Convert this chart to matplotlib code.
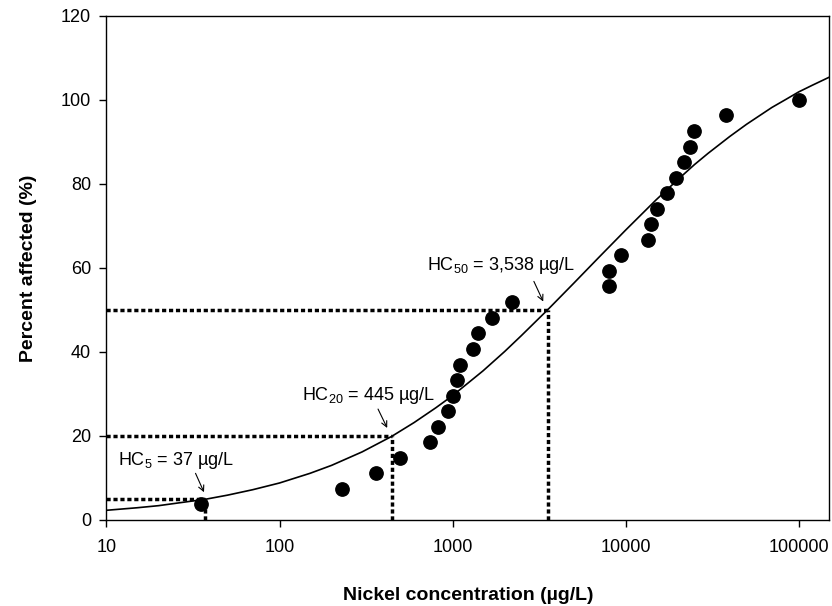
import matplotlib
matplotlib.use("Agg")
import matplotlib.pyplot as plt
import numpy as np

plt.rcParams['font.family'] = ['Liberation Sans', 'DejaVu Sans']
plt.rcParams['mathtext.default'] = 'regular'

# species sensitivity data (ug/L, percent affected)
conc = [35, 230, 360, 494, 740, 826, 944, 1012, 1054, 1102, 1305, 1396, 1680, 2192,
        8035, 8035, 9350, 13400, 14000, 15100, 17260, 19630, 21740, 23620, 24920,
        38000, 100000]
pct = [3.7, 7.4, 11.1, 14.8, 18.5, 22.2, 25.9, 29.6, 33.3, 37.0, 40.7, 44.4, 48.1,
       51.9, 55.6, 59.3, 63.0, 66.7, 70.4, 74.1, 77.8, 81.5, 85.2, 88.9, 92.6, 96.3,
       100.0]

# fitted curve
fit_x = [10, 15, 20, 30, 37, 50, 70, 100, 150, 200, 300, 445, 600, 800, 1000, 1500,
         2000, 2500, 3538, 5000, 7000, 10000, 15000, 20000, 25000, 30000, 40000,
         50000, 70000, 85000, 100000, 120000, 150000]
fit_y = [2.3, 2.9, 3.4, 4.4, 4.9, 5.9, 7.2, 8.8, 11.1, 13.0, 16.2, 19.9, 23.2, 26.7,
         29.6, 35.5, 40.1, 43.9, 50.0, 56.3, 62.5, 69.0, 76.2, 81.0, 84.6, 87.3, 91.3,
         94.2, 98.2, 100.2, 101.9, 103.5, 105.4]

# hazardous concentrations
hc_pct = [5, 20, 50]
hc_conc = [37, 445, 3538]
hc_text = ['HC$_{5}$ = 37 µg/L', 'HC$_{20}$ = 445 µg/L', 'HC$_{50}$ = 3,538 µg/L']
text_pos = [(11.6, 14.1), (134, 29.6), (708, 60.5)]
arrow_tail = [(32.7, 11.1), (371, 26.4), (2951, 56.8)]
arrow_head = [(36.6, 6.6), (419, 21.9), (3342, 52.0)]

xticks = [10, 100, 1000, 10000, 100000]
xticklabels = ['10', '100', '1000', '10000', '100000']
yticks = [0, 20, 40, 60, 80, 100, 120]

fig = plt.figure(figsize=(8.32, 6.06), dpi=100)
ax = fig.add_axes([0.128, 0.142, 0.8685, 0.8317])

ax.set_xscale('log')
ax.set_xlim(10, 150000)
ax.set_ylim(0, 120)

dots = (0, (1.2, 0.8))
for c, p in zip(hc_conc, hc_pct):
    ax.plot([10, c], [p, p], color='black', lw=2.5, linestyle=dots, zorder=2)
    ax.plot([c, c], [0, p], color='black', lw=2.5, linestyle=dots, zorder=2)

ax.plot(fit_x, fit_y, color='black', lw=1.2, zorder=3)
ax.plot(conc, pct, 'o', color='black', markersize=9.6, zorder=4)

for t, tp, tail, head in zip(hc_text, text_pos, arrow_tail, arrow_head):
    ax.text(tp[0], tp[1], t, fontsize=13, ha='left', va='center')
    ax.annotate('', xy=head, xytext=tail,
                arrowprops=dict(arrowstyle='->', color='black', lw=0.8,
                                mutation_scale=10, shrinkA=0, shrinkB=0))

ax.set_xticks(xticks)
ax.set_xticklabels(xticklabels)
ax.xaxis.set_minor_locator(matplotlib.ticker.NullLocator())
ax.set_yticks(yticks)
ax.tick_params(axis='both', direction='out', length=5, width=1, labelsize=13,
               top=False, right=False)
ax.tick_params(axis='x', pad=9)
ax.tick_params(axis='y', pad=6)
for s in ax.spines.values():
    s.set_linewidth(1)

ax.set_xlabel('Nickel concentration (µg/L)', fontsize=14, fontweight='bold', labelpad=22)
ax.set_ylabel('Percent affected (%)', fontsize=14, fontweight='bold', labelpad=17)

fig.savefig('out.png', dpi=100)
